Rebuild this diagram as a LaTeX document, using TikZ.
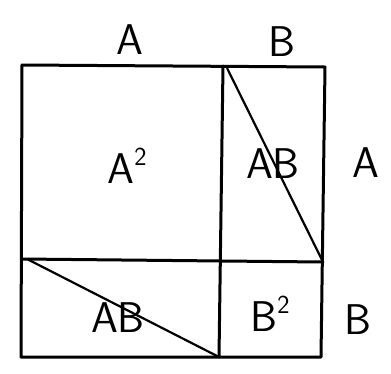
\documentclass[tikz,border=0pt]{standalone}
\usepackage{tikz}
\usetikzlibrary{positioning, calc}

\newcommand{\sqr}{\raisebox{0.42em}{\fontsize{26}{30}\selectfont 2}}

\begin{document}
\begin{tikzpicture}[x=1pt, y=-1pt,
    every node/.style={font=\sffamily\fontsize{43}{50}\selectfont},
    edge/.style={line width=3pt, line cap=round, line join=round}]
    \useasboundingbox (0,0) rectangle (391,373);

    % Corners of the square
    \coordinate (tl) at (22,65);
    \coordinate (tr) at (325,67);
    \coordinate (br) at (321,357);
    \coordinate (bl) at (21,357);
    \coordinate (mt) at (223,66);
    \coordinate (mb) at (219,357);
    \coordinate (ml) at (22,259);
    \coordinate (mr) at (323,262);

    % Square and dividers
    \draw[edge] (tl) -- (tr) -- (br) -- (bl) -- cycle;
    \draw[edge] (mt) -- (mb);
    \draw[edge] (ml) -- (mr);

    % Diagonals
    \draw[line width=2.2pt] (227,68) -- (mr);
    \draw[line width=2.2pt] (27,259) -- (mb);

    % Side labels
    \node (topA) at (130,40) {A};
    \node (topB) at (282,42) {B};
    \node (sideA) at (366,163) {A};
    \node (sideB) at (358,320) {B};

    % Area labels
    \node (sqA) at (127,166) {A\sqr};
    \node (rectAB) at (273,164) {AB};
    \node (rectBA) at (118,318) {AB};
    \node (sqB) at (270,314) {B\sqr};

\end{tikzpicture}
\end{document}
